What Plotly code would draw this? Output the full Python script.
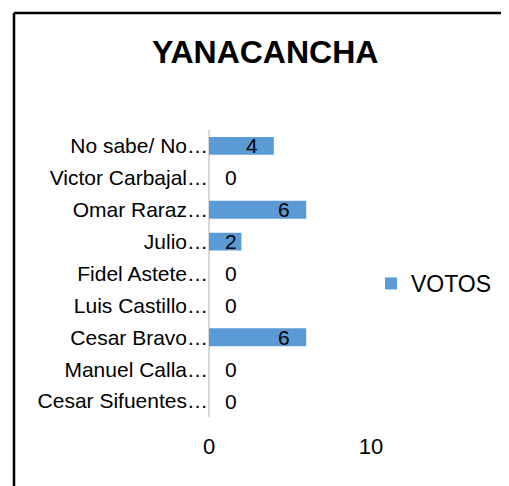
import plotly.graph_objects as go

categories = ["No sabe/ No…", "Victor Carbajal…", "Omar Raraz…", "Julio…",
              "Fidel Astete…", "Luis Castillo…", "Cesar Bravo…", "Manuel Calla…",
              "Cesar Sifuentes…"]
votos = [4, 0, 6, 2, 0, 0, 6, 0, 0]
title_text = "YANACANCHA"
series_name = "VOTOS"
x_ticks = [0, 10]

OFF = 8  # page body margin
W, H = 509 - OFF, 486 - OFF
L, R, T, B = 209 - OFF, 371 - OFF, 130 - OFF, 417 - OFF
FONT = "Arial, Liberation Sans, sans-serif"


def px_x(p):
    return (p - OFF - L) / (R - L)


def px_y(p):
    return (B - (p - OFF)) / (B - T)


fig = go.Figure()
fig.add_trace(go.Bar(
    y=categories, x=votos, orientation="h", name=series_name,
    marker=dict(color="#5B9BD5", line=dict(width=0)),
    showlegend=True,
))

annotations = []
for c, v in zip(categories, votos):
    if v <= 2:
        annotations.append(dict(x=0, y=c, xref="x", yref="y", text=str(v),
                                xanchor="left", xshift=14, showarrow=False,
                                font=dict(family=FONT, size=21, color="#000000")))
    else:
        annotations.append(dict(x=v, y=c, xref="x", yref="y", text=str(v),
                                xanchor="right", xshift=-14, showarrow=False,
                                font=dict(family=FONT, size=21, color="#000000")))

annotations.append(dict(x=px_x(264.5), y=px_y(52), xref="paper", yref="paper",
                        text="<b>" + title_text + "</b>", showarrow=False,
                        xanchor="center", yanchor="middle",
                        font=dict(family=FONT, size=32, color="#000000")))

shapes = [
    dict(type="line", xref="paper", yref="paper", x0=px_x(14), x1=px_x(14),
         y0=px_y(13), y1=px_y(500), line=dict(color="#000000", width=2.5)),
    dict(type="line", xref="paper", yref="paper", x0=px_x(14), x1=px_x(520),
         y0=px_y(13), y1=px_y(13), line=dict(color="#000000", width=2.5)),
]

fig.update_layout(
    width=W, height=H,
    margin=dict(l=L, r=W - R, t=T, b=H - B, pad=0),
    paper_bgcolor="#ffffff", plot_bgcolor="#ffffff",
    font=dict(family=FONT, size=21, color="#000000"),
    bargap=0.44,
    annotations=annotations,
    shapes=shapes,
    legend=dict(x=px_x(371), y=px_y(283.5), xanchor="left", yanchor="middle",
                font=dict(family=FONT, size=23, color="#000000"),
                bgcolor="rgba(0,0,0,0)"),
    showlegend=True,
)
fig.update_xaxes(range=[0, 10], tickvals=x_ticks, showgrid=True, gridcolor="#d9d9d9",
                 gridwidth=1.5, zeroline=True, zerolinecolor="#d9d9d9", zerolinewidth=1.5,
                 ticks="outside", ticklen=10, tickcolor="rgba(0,0,0,0)",
                 tickfont=dict(family=FONT, size=22), showline=False)
fig.update_yaxes(categoryorder="array", categoryarray=categories[::-1],
                 autorange=True, showgrid=False, zeroline=False, showline=False,
                 ticks="", tickfont=dict(family=FONT, size=21), ticklabelstandoff=0)

fig.write_html("out.html")
